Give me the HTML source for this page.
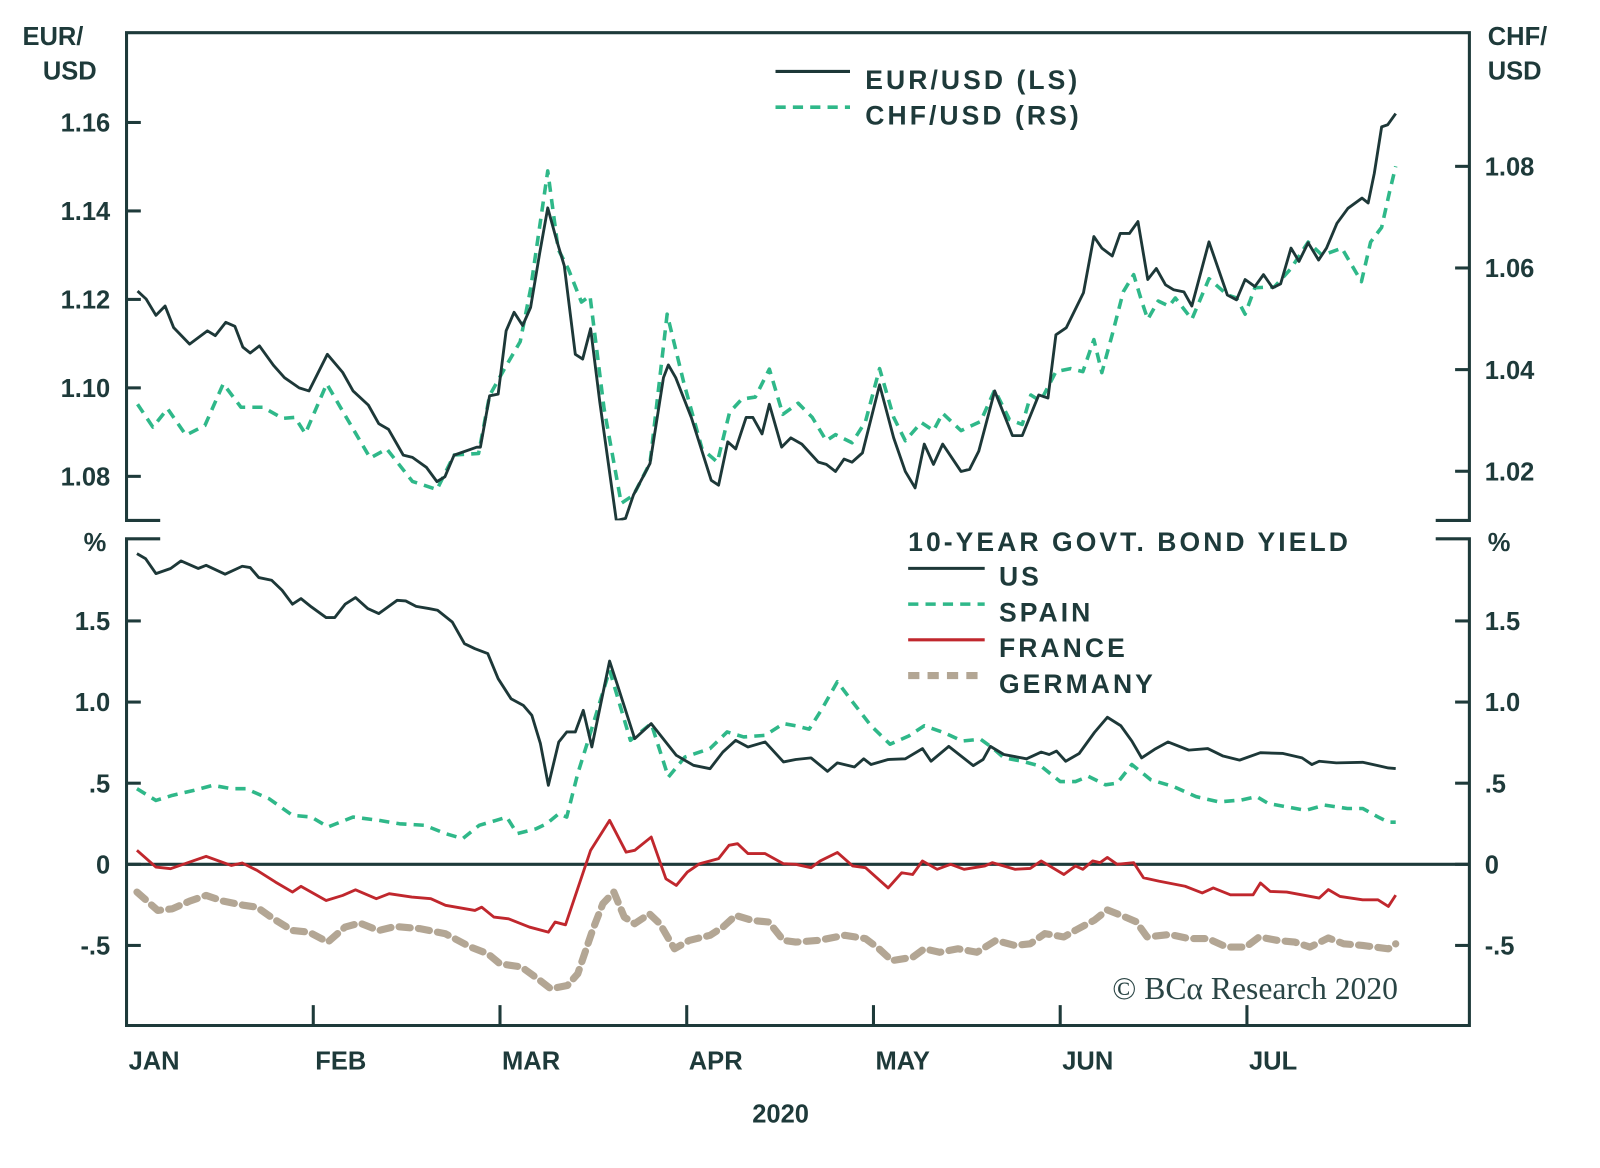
<!DOCTYPE html>
<html><head><meta charset="utf-8"><style>
body{margin:0;background:#fff;position:relative;}
svg{display:block;font-family:"Liberation Sans",sans-serif;}
.lbl{font-weight:bold;fill:#1e3a3a;font-size:25px;}
.leg{font-size:26px;letter-spacing:3px;}
</style></head><body>
<svg id="chart" width="1600" height="1168" viewBox="0 0 1568 1144.6"></svg>
<script>
const eurDays=[1.8,3.2,4.8,6.3,7.7,10.3,13.2,14.5,16.2,17.7,19,20.2,21.7,24,25.8,28.2,29.8,32.8,35.3,37,39.5,41.2,42.8,45.2,46.7,49,50.7,52,53.5,57.2,57.8,59.3,60.7,62,63.3,64.7,66,67.5,68.8,70.2,71.5,73.3,74.5,75.8,77.3,80,81.5,82.8,85.5,87.7,88.5,89.7,92.3,95.5,96.7,98.2,99.5,101.2,102.3,103.8,105,107,108.5,110.3,113,114.3,115.8,117.2,118.5,120.2,123,125.3,127.2,128.8,130.3,131.8,133.3,136.3,137.7,139.2,141.8,144.7,146.3,149,150.5,151.8,153.5,156.3,158,159.3,161,162.3,163.8,165.2,166.8,168.2,169.7,171,172.7,174,176.8,179.8,181.3,182.7,184.3,185.7,187.2,188.5,190.2,191.5,193,194.7,196,197.7,199.5,201.8,202.8,203.8,205,206,207.3];
const eurUsd=[1.1219,1.1201,1.1164,1.1185,1.1136,1.1099,1.1129,1.1118,1.1148,1.1139,1.1092,1.1079,1.1095,1.1051,1.1023,1.1000,1.0993,1.1076,1.1035,1.0993,1.0961,1.0919,1.0906,1.0848,1.0843,1.0820,1.0788,1.0799,1.0848,1.0866,1.0866,1.0982,1.0986,1.1129,1.1171,1.1141,1.1182,1.1306,1.1407,1.1336,1.1276,1.1076,1.1065,1.1134,1.0968,1.070,1.0705,1.0758,1.0829,1.1023,1.1052,1.1023,1.0931,1.0791,1.0780,1.0878,1.0862,1.0933,1.0933,1.0896,1.0963,1.0866,1.0887,1.0873,1.0832,1.0827,1.0811,1.0839,1.0832,1.0853,1.1007,1.0887,1.0811,1.0774,1.0873,1.0827,1.0873,1.0811,1.0816,1.0857,1.0993,1.0892,1.0892,1.0984,1.0977,1.1120,1.1136,1.1215,1.1342,1.1316,1.1298,1.1349,1.1349,1.1376,1.1245,1.1270,1.1233,1.1222,1.1217,1.1185,1.1330,1.1210,1.1199,1.1245,1.1229,1.1256,1.1226,1.1235,1.1316,1.1286,1.1328,1.1289,1.1316,1.1372,1.1406,1.1429,1.1418,1.1485,1.159,1.1595,1.162];
const chfDays=[1.8,4.3,6.7,9.7,12.8,15.8,18.7,22.3,25.5,27.5,29.2,32.7,35.7,39.8,42.5,46.7,50.7,53.5,57.5,59.3,61.7,64.3,66,68.8,70.5,72.2,74.3,75.7,78,80.8,82.8,85.5,88.3,91,94,96.5,98.5,100.5,102.7,105,107.2,109.7,112,114.3,115.8,118.5,120.7,123,125.3,127.2,129.8,131.8,133.3,136.3,139.5,141.8,144.2,146.3,147.7,149.3,151.8,154.2,156.2,158,159.3,161,162.8,164.5,165.8,166.8,168.5,170.3,171.3,174,176.8,179.8,181.3,182.7,184.3,187.5,190.2,193,195.3,198.5,201.7,203.2,205,206.3,207.3];
const chfUsd=[1.0332,1.0287,1.0323,1.0271,1.0290,1.0372,1.0326,1.0326,1.0304,1.0306,1.0274,1.0372,1.0310,1.0226,1.0244,1.0180,1.0164,1.0232,1.0235,1.0349,1.0401,1.0455,1.0559,1.0791,1.0637,1.0597,1.0533,1.0545,1.0323,1.0137,1.0153,1.0216,1.0509,1.0375,1.0244,1.0218,1.0316,1.0342,1.0346,1.0401,1.0312,1.0334,1.0306,1.0260,1.0272,1.0256,1.0298,1.0402,1.0306,1.0260,1.0296,1.0280,1.0314,1.0280,1.0298,1.0360,1.0302,1.0292,1.0350,1.0338,1.0396,1.0402,1.0396,1.0459,1.0394,1.0469,1.0553,1.0587,1.0535,1.0499,1.0535,1.0525,1.0541,1.0499,1.0579,1.0547,1.0541,1.0509,1.0561,1.0563,1.0599,1.0651,1.0625,1.0639,1.0573,1.0651,1.068,1.075,1.080];
const usDays=[1.7,3.1,4.8,7.2,8.9,11.7,13,16.1,18.9,20.2,21.6,23.7,25.4,27.1,28.5,30.2,32.6,34,35.7,37.4,39.4,41.2,44.2,45.6,47.3,49.4,50.8,53.2,55.2,56.9,59,60.7,62.8,64.8,66.2,67.6,68.9,70.6,71.9,73.3,74.6,76,78.9,80.2,83,85.7,89.8,92.6,95.3,97.4,99.5,101.5,104.3,107.3,109.3,111.8,114.5,116.1,118.9,120.4,121.6,124.4,127.2,130,131.4,134.3,138.3,139.9,141.1,143.3,147,149.4,150.7,151.9,153.4,155.6,158.1,160.2,162.4,164.2,165.8,167.9,170.1,173.5,176.6,179.1,181.8,185.2,188.9,192,193.6,194.8,197.6,201.9,204.4,206.1,207.3];
const usYield=[1.915,1.884,1.792,1.823,1.870,1.823,1.843,1.788,1.837,1.829,1.767,1.751,1.689,1.603,1.638,1.586,1.521,1.521,1.603,1.644,1.576,1.545,1.627,1.623,1.590,1.576,1.566,1.494,1.360,1.329,1.299,1.144,1.021,0.980,0.918,0.744,0.487,0.754,0.816,0.816,0.949,0.723,1.253,1.103,0.774,0.867,0.672,0.610,0.589,0.692,0.764,0.723,0.754,0.631,0.646,0.656,0.573,0.625,0.600,0.650,0.615,0.646,0.650,0.713,0.635,0.727,0.608,0.646,0.727,0.677,0.650,0.692,0.677,0.698,0.635,0.683,0.813,0.906,0.854,0.760,0.656,0.708,0.754,0.704,0.713,0.667,0.642,0.688,0.683,0.656,0.615,0.635,0.625,0.629,0.608,0.594,0.59];
const spainDays=[1.7,4.8,7.5,11,14.1,17.1,19.5,23.3,27.1,30.2,32.9,37,41.2,44.6,48.7,52.1,54.9,57.6,60.4,62.1,63.8,66.9,68.6,70.6,71.9,73.7,75.4,78.9,82.3,85.7,88.5,91.2,95.3,98.1,100.8,104.3,107.3,109.3,111.5,113.6,116.1,118.6,121.6,124.7,127.8,130.3,133.4,136.5,139.5,141.4,143.3,146.3,149.4,152.5,155,157.1,159.9,161.8,164.2,167.3,171,174.7,178.4,182.1,184.6,186.5,189.5,192.6,195.7,199.4,201.9,204.4,206.1,207.3];
const spainYield=[0.466,0.394,0.425,0.456,0.487,0.466,0.466,0.404,0.302,0.291,0.230,0.291,0.271,0.250,0.240,0.189,0.158,0.240,0.271,0.291,0.189,0.219,0.250,0.312,0.291,0.559,0.764,1.196,0.764,0.867,0.538,0.661,0.713,0.816,0.785,0.795,0.867,0.854,0.833,0.958,1.125,1.000,0.854,0.740,0.792,0.854,0.813,0.760,0.771,0.719,0.656,0.635,0.604,0.510,0.510,0.542,0.490,0.500,0.615,0.521,0.479,0.417,0.385,0.396,0.417,0.375,0.354,0.333,0.365,0.344,0.344,0.292,0.260,0.26];
const franceDays=[1.7,4.8,7.2,10.3,13,17.1,18.9,21.3,24.3,27.1,28.5,32.6,35.3,37.4,40.8,42.9,46.6,49.7,52.1,56.9,58,60,62.4,65.8,68.9,70,71.7,75.8,78.9,81.6,83,85.7,88.1,89.8,91.6,93.6,96.7,98.4,99.8,101.5,104.3,107.3,109.3,111.8,113.3,116.1,118.6,120.7,124.4,126.6,128.4,130,132.4,134.6,136.8,140.2,141.4,145.1,147.6,149.4,153.1,155,156.2,157.8,159,160.2,161.8,164.5,166.1,168.6,172.9,175.7,177.5,180.3,184,185.2,186.8,189.5,194.8,196.3,198.2,201.9,204.4,206.1,207.3];
const franceYield=[0.086,-0.017,-0.027,0.014,0.049,-0.007,0.008,-0.037,-0.109,-0.171,-0.136,-0.223,-0.192,-0.157,-0.212,-0.181,-0.202,-0.212,-0.253,-0.284,-0.264,-0.325,-0.336,-0.387,-0.418,-0.356,-0.373,0.086,0.271,0.075,0.086,0.168,-0.089,-0.130,-0.048,0.004,0.035,0.117,0.127,0.066,0.066,0.004,0.0,-0.021,0.021,0.073,-0.010,-0.021,-0.146,-0.052,-0.063,0.021,-0.031,0.0,-0.031,-0.010,0.010,-0.031,-0.025,0.021,-0.063,-0.010,-0.031,0.021,0.010,0.042,0.0,0.010,-0.083,-0.104,-0.135,-0.177,-0.146,-0.188,-0.188,-0.115,-0.167,-0.171,-0.208,-0.156,-0.198,-0.219,-0.219,-0.260,-0.19];
const germanyDays=[1.7,5.1,7.5,10.3,13,15.8,19.2,21.3,24,27.1,29.8,32.9,35.7,38.1,41.2,43.9,48,52.1,56.2,59,61,64.5,67.2,69.3,72,73.7,76.1,77.8,79.6,81.3,83,85.4,87.1,89.5,91.9,95.3,97.4,99.5,102.2,104.9,107.3,109.3,113,117.3,120.7,122.9,125,128.4,130.3,132.8,135.8,138.9,142,145.1,147.6,150,153.1,155,158.1,160.2,163,164.9,166.7,170.4,173.5,176.6,179.7,182.8,185,188,190.8,193.3,196.3,198.8,201.9,206.1,207.3];
const germanyYield=[-0.171,-0.284,-0.274,-0.227,-0.192,-0.227,-0.253,-0.264,-0.336,-0.408,-0.418,-0.479,-0.387,-0.362,-0.408,-0.383,-0.397,-0.428,-0.510,-0.551,-0.613,-0.633,-0.706,-0.767,-0.747,-0.675,-0.408,-0.243,-0.171,-0.325,-0.366,-0.305,-0.366,-0.521,-0.469,-0.438,-0.387,-0.315,-0.346,-0.356,-0.469,-0.479,-0.469,-0.438,-0.458,-0.521,-0.594,-0.573,-0.521,-0.542,-0.521,-0.542,-0.469,-0.500,-0.490,-0.427,-0.448,-0.406,-0.344,-0.281,-0.323,-0.354,-0.448,-0.433,-0.458,-0.458,-0.510,-0.510,-0.448,-0.469,-0.479,-0.510,-0.454,-0.490,-0.500,-0.521,-0.49];
const eurTicks=[1.08,1.10,1.12,1.14,1.16];
const eurTickLabels=["1.08","1.10","1.12","1.14","1.16"];
const chfTicks=[1.02,1.04,1.06,1.08];
const chfTickLabels=["1.02","1.04","1.06","1.08"];
const yTicks=[-0.5,0,0.5,1.0,1.5];
const yTickLabels=["-.5","0",".5","1.0","1.5"];
const months=["JAN","FEB","MAR","APR","MAY","JUN","JUL"];

const NS="http://www.w3.org/2000/svg";
const svg=document.getElementById('chart');
const L=124,R=1440,T=32,B=1005,TB=510,BT=528;
const x=d=>L+d*6.0;
const yEur=v=>120+(1.16-v)/0.02*86.7;
const yChf=v=>163+(1.08-v)/0.02*99.6;
const yB=v=>847-v*159;
const C="#1e3a3a";
function mk(tag,attrs,parent){const e=document.createElementNS(NS,tag);for(const k in attrs)e.setAttribute(k,attrs[k]);(parent||svg).appendChild(e);return e;}
function txt(s,xx,yy,anchor,cls){const e=mk('text',{x:xx,y:yy,'text-anchor':anchor||'start',class:cls||'lbl'});e.textContent=s;return e;}

const defs=mk('defs',{});
const cp=mk('clipPath',{id:'topclip'},defs);mk('rect',{x:L,y:T,width:R-L,height:TB-T},cp);
const cp2=mk('clipPath',{id:'botclip'},defs);mk('rect',{x:L,y:BT,width:R-L,height:B-BT},cp2);

const frame=mk('path',{d:`M${L+33},${TB} H${L} V${T} H${R} V${TB} H${R-33} M${L+33},${BT} H${L} V${B} H${R} V${BT} H${R-33}`,fill:'none',stroke:C,'stroke-width':3});


const zl=mk('line',{x1:L,x2:R,y1:yB(0),y2:yB(0),stroke:C,'stroke-width':3});



eurTicks.forEach((v,i)=>{mk('line',{x1:L,x2:L+14,y1:yEur(v),y2:yEur(v),stroke:C,'stroke-width':3});
 const t=txt(eurTickLabels[i],108,yEur(v)+9,'end');
 
 });
chfTicks.forEach((v,i)=>{mk('line',{x1:R-14,x2:R,y1:yChf(v),y2:yChf(v),stroke:C,'stroke-width':3});
 const t=txt(chfTickLabels[i],1455,yChf(v)+9,'start');
 
 });
yTicks.forEach((v,i)=>{mk('line',{x1:L,x2:L+14,y1:yB(v),y2:yB(v),stroke:C,'stroke-width':3});
 mk('line',{x1:R-14,x2:R,y1:yB(v),y2:yB(v),stroke:C,'stroke-width':3});
 const t=txt(yTickLabels[i],108,yB(v)+9,'end');
 
 
 const t2=txt(yTickLabels[i],1455,yB(v)+9,'start');
 
 });
months.forEach((m,i)=>{const xx=L+i*183;
 if(i>0)mk('line',{x1:xx,x2:xx,y1:B,y2:B-20,stroke:C,'stroke-width':3});
 const t=txt(m,xx+2,1048,'start');
 
 });

function series(days,vals,yf,clip,attrs,name){
 const d=days.map((dd,i)=>(i?'L':'M')+x(dd).toFixed(1)+','+yf(vals[i]).toFixed(1)).join('');
 const p=mk('path',Object.assign({d:d,fill:'none','clip-path':`url(#${clip})`,'stroke-linejoin':'round'},attrs));
 
 
}
series(chfDays,chfUsd,yChf,'topclip',{stroke:'#2fb889','stroke-width':3.5,'stroke-dasharray':'10 7'},'chf-usd-line');
series(eurDays,eurUsd,yEur,'topclip',{stroke:'#1d3838','stroke-width':2.8},'eur-usd-line');
series(germanyDays,germanyYield,yB,'botclip',{stroke:'#b3a694','stroke-width':7,'stroke-dasharray':'11 8','stroke-linecap':'round'},'germany-line');
series(spainDays,spainYield,yB,'botclip',{stroke:'#2fb889','stroke-width':3.5,'stroke-dasharray':'10 7'},'spain-line');
series(franceDays,franceYield,yB,'botclip',{stroke:'#c0272d','stroke-width':2.8},'france-line');
series(usDays,usYield,yB,'botclip',{stroke:'#1d3838','stroke-width':2.8},'us-line');
</script>
<svg style="position:absolute;left:0;top:0" width="1600" height="1168" viewBox="0 0 1568 1144.6">
<g font-family="Liberation Sans, sans-serif" font-weight="bold" fill="#1e3a3a" font-size="25">
<text x="22" y="44">EUR/</text>
<text x="42" y="78">USD</text>
<text x="1458" y="44">CHF/</text>
<text x="1458" y="78">USD</text>
<text x="82" y="540">%</text>
<text x="1458" y="540">%</text>
<text x="765" y="1100" text-anchor="middle">2020</text>
<g>
<line x1="760" x2="833" y1="70" y2="70" stroke="#1d3838" stroke-width="3"/>
<text class="leg" x="848" y="87">EUR/USD (LS)</text>
<line x1="760" x2="833" y1="105" y2="105" stroke="#2fb889" stroke-width="3.5" stroke-dasharray="10 7"/>
<text class="leg" x="848" y="122">CHF/USD (RS)</text>
</g>
<g>
<text class="leg" x="890" y="540">10-YEAR GOVT. BOND YIELD</text>
<line x1="890" x2="965" y1="557" y2="557" stroke="#1d3838" stroke-width="3"/>
<text class="leg" x="979" y="574">US</text>
<line x1="890" x2="965" y1="592" y2="592" stroke="#2fb889" stroke-width="3.5" stroke-dasharray="10 7"/>
<text class="leg" x="979" y="609">SPAIN</text>
<line x1="890" x2="965" y1="627" y2="627" stroke="#c0272d" stroke-width="3"/>
<text class="leg" x="979" y="644">FRANCE</text>
<line x1="890" x2="965" y1="662" y2="662" stroke="#b3a694" stroke-width="7" stroke-dasharray="11 8"/>
<text class="leg" x="979" y="679">GERMANY</text>
</g>
</g>
<text x="1370" y="979" text-anchor="end" font-family="Liberation Serif, serif" font-size="31" fill="#2a4545">© BCα Research 2020</text>
</svg>
</body></html>
